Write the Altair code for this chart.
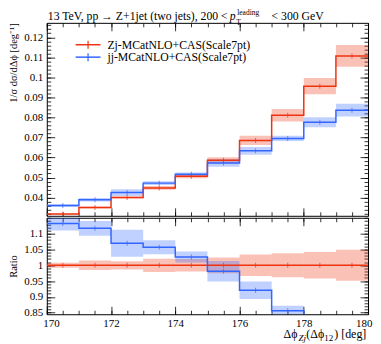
import altair as alt
import pandas as pd

# ---------------- data ----------------
bin_lo = [170, 171, 172, 173, 174, 175, 176, 177, 178, 179]
zj_val = [0.0318, 0.0350, 0.0400, 0.0448, 0.0506, 0.0586, 0.0685, 0.0811, 0.0956, 0.1107]
jj_val = [0.0360, 0.0389, 0.0425, 0.0472, 0.0516, 0.0572, 0.0633, 0.0695, 0.0776, 0.0836]
jj_ratio = [1.132, 1.117, 1.070, 1.057, 1.026, 0.981, 0.921, 0.856, 0.812, 0.755]
zj_rel_err = [0.008, 0.015, 0.013, 0.021, 0.020, 0.025, 0.034, 0.038, 0.042, 0.049]
jj_rel_err = [0.019, 0.021, 0.040, 0.021, 0.017, 0.033, 0.030, 0.019, 0.032, 0.038]

ZJ = "Zj-MCatNLO+CAS(Scale7pt)"
JJ = "jj-MCatNLO+CAS(Scale7pt)"

x_major = [170, 172, 174, 176, 178, 180]
x_minor = [170 + 0.5 * i for i in range(21)]
y1_major = [0.04, 0.05, 0.06, 0.07, 0.08, 0.09, 0.10, 0.11, 0.12]
y1_minor = [round(0.032 + 0.002 * i, 3) for i in range(48)]
y2_major = [0.85, 0.9, 0.95, 1.0, 1.05, 1.1]
y2_minor = [round(0.85 + 0.01 * i, 2) for i in range(31)]

# ---------------- style ----------------
RED = "#EE3311"
BLUE = "#3366FF"
FONT = "Liberation Serif"
W, H1, H2 = 323, 194, 97
X_DOM = [170, 180]
Y1_DOM = [0.0309, 0.1272]
Y2_DOM = [0.845, 1.1505]

# ---------------- tables ----------------
hi = [b + 1 for b in bin_lo]
mid = [b + 0.5 for b in bin_lo]
bins = pd.DataFrame(dict(lo=bin_lo, hi=hi, mid=mid, zj=zj_val, jj=jj_val,
                         r_jj=jj_ratio, r_zj=[1.0] * len(bin_lo)))
bins["zj_lo"] = [v * (1 - e) for v, e in zip(zj_val, zj_rel_err)]
bins["zj_hi"] = [v * (1 + e) for v, e in zip(zj_val, zj_rel_err)]
bins["jj_lo"] = [v * (1 - e) for v, e in zip(jj_val, jj_rel_err)]
bins["jj_hi"] = [v * (1 + e) for v, e in zip(jj_val, jj_rel_err)]
bins["rzj_lo"] = [1 - e for e in zj_rel_err]
bins["rzj_hi"] = [1 + e for e in zj_rel_err]
bins["rjj_lo"] = [v * (1 - e) for v, e in zip(jj_ratio, jj_rel_err)]
bins["rjj_hi"] = [v * (1 + e) for v, e in zip(jj_ratio, jj_rel_err)]

step = pd.DataFrame(dict(x=bin_lo + [180],
                         zj=zj_val + [zj_val[-1]],
                         jj=jj_val + [jj_val[-1]],
                         r_zj=[1.0] * (len(bin_lo) + 1),
                         r_jj=jj_ratio + [jj_ratio[-1]]))
one = pd.DataFrame({"a": [0]})


def sc(dom):
    return alt.Scale(domain=dom, nice=False, zero=False)


def tick_axis(orient, values, size):
    return alt.Axis(orient=orient, values=values, labels=False, domain=False,
                    ticks=True, tickSize=size, offset=-size, title=None,
                    tickColor="black", tickWidth=0.8, grid=False)


def X(field, axis):
    return alt.X(f"{field}:Q", scale=sc(X_DOM), axis=axis)


def Y(field, dom, axis):
    return alt.Y(f"{field}:Q", scale=sc(dom), axis=axis)


def txt(text, x, y, size=11.8, italic=False, align="left"):
    return alt.Chart(one).mark_text(
        text=text, align=align, baseline="alphabetic", font=FONT, fontSize=size,
        fontStyle="italic" if italic else "normal", color="black"
    ).encode(x=alt.value(x), y=alt.value(y))


# ---------------- main panel ----------------
y1_label_axis = alt.Axis(orient="left", values=y1_major, ticks=False, domain=False,
                         labelExpr="format(datum.value, '.2~f')", labelPadding=4,
                         title="1/σ dσ/dΔϕ [deg⁻¹]", titleAnchor="end",
                         titlePadding=5, grid=False)

m_zj_band = alt.Chart(bins).mark_rect(color=RED, opacity=0.3, clip=True).encode(
    x=X("lo", tick_axis("bottom", x_major, 8)), x2="hi",
    y=Y("zj_lo", Y1_DOM, y1_label_axis), y2="zj_hi")
m_jj_band = alt.Chart(bins).mark_rect(color=BLUE, opacity=0.3, clip=True).encode(
    x=X("lo", tick_axis("bottom", x_minor, 4)), x2="hi",
    y=Y("jj_lo", Y1_DOM, tick_axis("left", y1_major, 8)), y2="jj_hi")
m_zj_line = alt.Chart(step).mark_line(color=RED, strokeWidth=1.5, interpolate="step-after", clip=True).encode(
    x=X("x", tick_axis("top", x_major, 8)),
    y=Y("zj", Y1_DOM, tick_axis("left", y1_minor, 4)))
m_jj_line = alt.Chart(step).mark_line(color=BLUE, strokeWidth=1.5, interpolate="step-after", clip=True).encode(
    x=X("x", tick_axis("top", x_minor, 4)),
    y=Y("jj", Y1_DOM, tick_axis("right", y1_major, 8)))
m_zj_tick = alt.Chart(bins).mark_tick(color=RED, orient="vertical", size=5, thickness=1, clip=True).encode(
    x=X("mid", None), y=Y("zj", Y1_DOM, tick_axis("right", y1_minor, 4)))
m_jj_tick = alt.Chart(bins).mark_tick(color=BLUE, orient="vertical", size=5, thickness=1, clip=True).encode(
    x=X("mid", None), y=Y("jj", Y1_DOM, None))

leg = []
for lab, col, yy in [(ZJ, RED, 22), (JJ, BLUE, 34.5)]:
    leg.append(alt.Chart(one).mark_rule(color=col, strokeWidth=1.5).encode(
        x=alt.value(29), x2=alt.value(54), y=alt.value(yy)))
    leg.append(alt.Chart(one).mark_rule(color=col, strokeWidth=1.2).encode(
        x=alt.value(41.5), y=alt.value(yy - 4), y2=alt.value(yy + 4)))
    leg.append(alt.Chart(one).mark_text(text=lab, align="left", baseline="middle",
                                        font=FONT, fontSize=11.8, color="black").encode(
        x=alt.value(61), y=alt.value(yy)))

title_parts = [
    txt("13 TeV, pp → Z+1jet (two jets), 200 < ", 1, -3),
    txt("p", 184, -3, italic=True),
    txt("leading", 191.5, -7.5, size=7.5),
    txt("T", 190.5, 2, size=7.5),
    txt("< 300 GeV", 226, -3),
]

main = alt.layer(m_zj_band, m_jj_band, m_zj_line, m_jj_line, m_zj_tick, m_jj_tick,
                 *leg, *title_parts).resolve_axis(x="independent", y="independent").properties(
    width=W, height=H1)

# ---------------- ratio panel ----------------
x_label_axis = alt.Axis(orient="bottom", values=x_major, ticks=False, domain=False,
                        labelPadding=3, labelFlush=True, labelFlushOffset=4,
                        title=None, grid=False)
y2_label_axis = alt.Axis(orient="left", values=y2_major, ticks=False, domain=False,
                         labelExpr="format(datum.value, '.2~f')", labelPadding=4,
                         title="Ratio", titleAnchor="middle", titlePadding=5, grid=False)

r_zj_band = alt.Chart(bins).mark_rect(color=RED, opacity=0.3, clip=True).encode(
    x=X("lo", x_label_axis), x2="hi",
    y=Y("rzj_lo", Y2_DOM, y2_label_axis), y2="rzj_hi")
r_jj_band = alt.Chart(bins).mark_rect(color=BLUE, opacity=0.3, clip=True).encode(
    x=X("lo", tick_axis("bottom", x_major, 8)), x2="hi",
    y=Y("rjj_lo", Y2_DOM, tick_axis("left", y2_major, 8)), y2="rjj_hi")
r_zj_line = alt.Chart(step).mark_line(color=RED, strokeWidth=1.5, interpolate="step-after", clip=True).encode(
    x=X("x", tick_axis("bottom", x_minor, 4)),
    y=Y("r_zj", Y2_DOM, tick_axis("left", y2_minor, 4)))
r_jj_line = alt.Chart(step).mark_line(color=BLUE, strokeWidth=1.5, interpolate="step-after", clip=True).encode(
    x=X("x", tick_axis("top", x_major, 8)),
    y=Y("r_jj", Y2_DOM, tick_axis("right", y2_major, 8)))
r_zj_tick = alt.Chart(bins).mark_tick(color=RED, orient="vertical", size=5, thickness=1, clip=True).encode(
    x=X("mid", tick_axis("top", x_minor, 4)),
    y=Y("r_zj", Y2_DOM, tick_axis("right", y2_minor, 4)))
r_jj_tick = alt.Chart(bins).mark_tick(color=BLUE, orient="vertical", size=5, thickness=1, clip=True).encode(
    x=X("mid", None), y=Y("r_jj", Y2_DOM, None))

xtitle = [
    txt("Δϕ", 238, 121, size=12),
    txt("Zj", 253, 124, size=9, italic=True),
    txt("(Δϕ", 261, 121, size=12),
    txt("12", 279, 124, size=9),
    txt(") [deg]", 289, 121, size=12),
]

ratio = alt.layer(r_zj_band, r_jj_band, r_zj_line, r_jj_line, r_zj_tick, r_jj_tick,
                  *xtitle).resolve_axis(x="independent", y="independent").properties(
    width=W, height=H2)

chart = alt.vconcat(main, ratio, spacing=0).resolve_scale(
    x="independent", y="independent"
).configure(
    padding=0, font=FONT
).configure_view(stroke="black", strokeWidth=1).configure_axis(
    labelFont=FONT, titleFont=FONT, labelFontSize=11, titleFontSize=10.5,
    titleFontWeight="normal", labelColor="black", titleColor="black"
)

chart.save("out.html", embed_options={"renderer": "svg", "actions": False})
